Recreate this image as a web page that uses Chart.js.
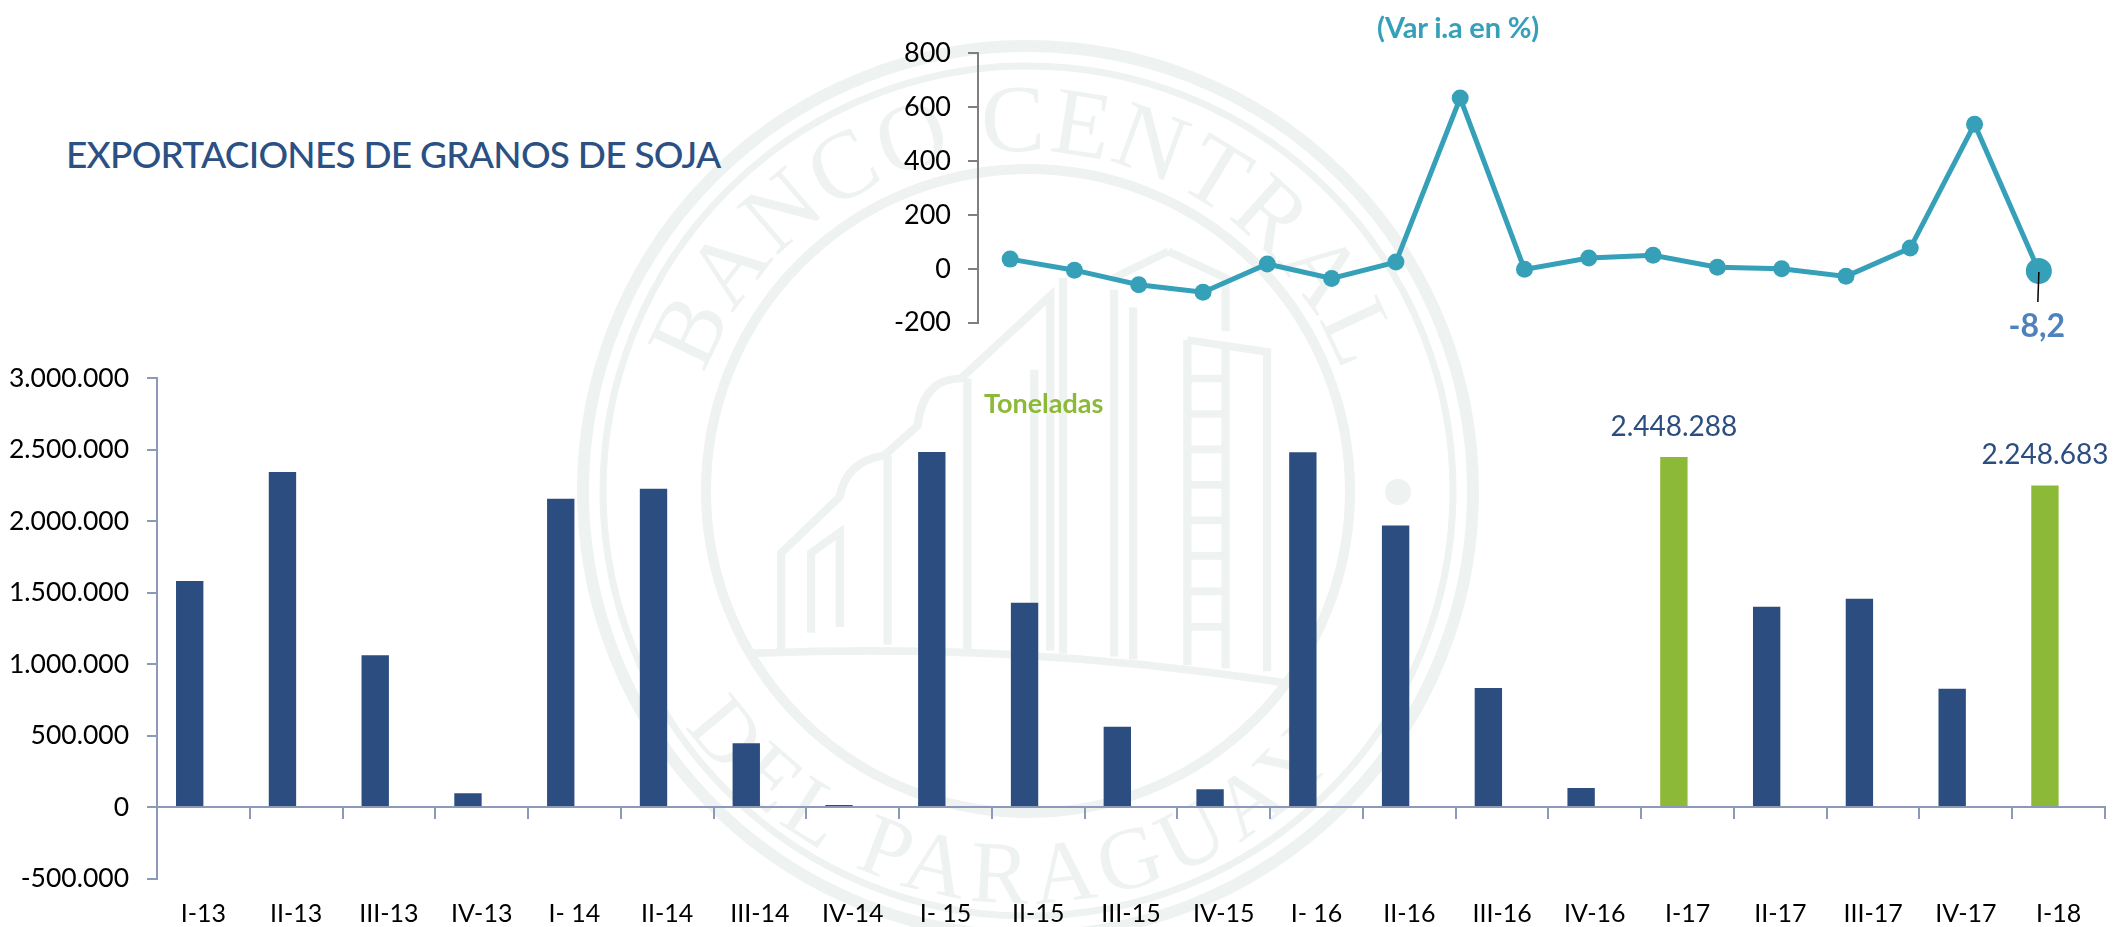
<!DOCTYPE html>
<html>
<head>
<meta charset="utf-8">
<title>Exportaciones de granos de soja</title>
<script src="https://cdn.jsdelivr.net/npm/chart.js@4/dist/chart.umd.min.js"></script>
<style>
    html, body { margin: 0; padding: 0; background: #fff; }
    #page { position: relative; width: 2113px; height: 927px; overflow: hidden; font-family: Lato, sans-serif; }
    #page canvas, #sello { position: absolute; }
    #sello { left: 0; top: 0; }
    #barras { left: 0; top: 340px; }
    #lineas { left: 850px; top: 0; }
    .txt { position: absolute; white-space: nowrap; line-height: 1; }
    #titulo { left: 66px; top: 135px; font-size: 37px; font-weight: 500; color: #2b5083; letter-spacing: -0.75px; }
    #toneladas { left: 984px; top: 389px; font-size: 27px; font-weight: 700; color: #8db938; }
    #var { left: 1377px; top: 12px; font-size: 29px; font-weight: 700; color: #36a0b9; letter-spacing: -0.2px; }
</style>
</head>
<body>
<div id="page">
    <svg id="sello" width="2113" height="927" viewBox="0 0 2113 927">
        <g fill="none" stroke="#eef2f0">
            <circle cx="1028" cy="491" r="445" stroke-width="12"/>
            <circle cx="1028" cy="491" r="425" stroke-width="7"/>
            <circle cx="1028" cy="491" r="322" stroke-width="10"/>
            <g transform="translate(540,0) scale(.6378,.5914)" stroke-width="13">
                <path d="M330 1105 Q750 1085 1170 1155"/>
                <path d="M378 1100 V935 L470 840 Q480 780 540 770 L592 720 Q600 640 660 640 L800 500 V1100"/>
                <path d="M425 1070 V935 L470 900 V1060 M545 770 V1090 M670 640 V1100 M775 625 V1100"/>
                <path d="M820 470 V1105 M900 490 V1110 M985 425 L900 470 M985 425 L1075 470 V560 M930 520 V1115"/>
                <path d="M1015 575 L1140 595 V1135 M1015 575 V1125 M1075 590 V1130"/>
                <path d="M1020 640 H1072 M1020 700 H1072 M1020 760 H1072 M1020 820 H1072 M1020 880 H1072 M1020 940 H1072 M1020 1000 H1072 M1020 1060 H1072"/>
            </g>
            <circle cx="1398" cy="492" r="13" fill="#eef2f0" stroke="none"/>
        </g>
        <defs>
            <path id="arcoSup" d="M 695.6 403 A 340 340 0 0 1 1352.4 403"/>
            <path id="arcoInf" d="M 667 697 A 412 412 0 0 0 1361.5 727"/>
        </defs>
        <g fill="#eef2f0" font-family="Liberation Serif" text-anchor="middle">
            <text font-size="96" letter-spacing="2"><textPath href="#arcoSup" startOffset="50%">BANCO CENTRAL</textPath></text>
            <text font-size="88" letter-spacing="8"><textPath href="#arcoInf" startOffset="50%">DEL PARAGUAY</textPath></text>
        </g>
    </svg>
    <canvas id="barras" width="2113" height="587"></canvas>
    <canvas id="lineas" width="1263" height="350"></canvas>
    <div class="txt" id="titulo">EXPORTACIONES DE GRANOS DE SOJA</div>
    <div class="txt" id="toneladas">Toneladas</div>
    <div class="txt" id="var">(Var i.a en %)</div>
</div>
<script>
const trimestres = ['I-13', 'II-13', 'III-13', 'IV-13', 'I- 14', 'II-14', 'III-14', 'IV-14', 'I- 15', 'II-15', 'III-15', 'IV-15', 'I- 16', 'II-16', 'III-16', 'IV-16', 'I-17', 'II-17', 'III-17', 'IV-17', 'I-18'];
const toneladas = [1581000, 2342000, 1062000, 97000, 2156000, 2225000, 447000, 15000, 2483000, 1428000, 562000, 124000, 2480000, 1968000, 833000, 133000, 2448288, 1400000, 1457000, 828000, 2248683];
const destacados = ['I-17', 'I-18'];

const trimestresVar = trimestres.slice(4);
const variacion = [36, -5, -59, -87, 18, -36, 25, 634, -2, 40, 50, 6, 0, -28, 77, 537, -8.2];

const azul = '#2c4d7f';
const verde = '#8db938';
const teal = '#36a0b9';
const fuente = 'Lato, sans-serif';

Chart.defaults.animation = false;
Chart.defaults.responsive = false;
Chart.defaults.font.family = fuente;

const miles = v => Number(v).toLocaleString('de-DE');

// etiquetas arriba de las barras verdes
const etiquetasBarras = {
    id: 'etiquetasBarras',
    afterDatasetsDraw(chart) {
        const ctx = chart.ctx;
        const meta = chart.getDatasetMeta(0);
        ctx.save();
        ctx.font = '28px ' + fuente;
        ctx.fillStyle = azul;
        ctx.textAlign = 'center';
        ctx.textBaseline = 'bottom';
        trimestres.forEach((t, i) => {
            if (destacados.includes(t)) {
                ctx.fillText(miles(toneladas[i]), meta.data[i].x, meta.data[i].y - 16);
            }
        });
        ctx.restore();
    }
};

new Chart(document.getElementById('barras'), {
    type: 'bar',
    data: {
        labels: trimestres,
        datasets: [{
            data: toneladas,
            backgroundColor: trimestres.map(t => destacados.includes(t) ? verde : azul),
            barPercentage: 1,
            categoryPercentage: 0.59
        }, {
            // serie vacia: las barras van corridas a la izquierda de la categoria
            data: [],
            barPercentage: 1,
            categoryPercentage: 0.59
        }]
    },
    options: {
        layout: { autoPadding: false, padding: { top: 38, right: 8, bottom: 48.4, left: 0 } },
        plugins: { legend: { display: false }, tooltip: { enabled: false } },
        scales: {
            x: {
                position: { y: 0 },
                // el padding grande baja las etiquetas, no debe achicar el area
                afterFit(scale) { scale.paddingLeft = 0; scale.paddingRight = 0; },
                grid: { drawOnChartArea: false, color: '#8d99b8', lineWidth: 2, tickLength: 11 },
                border: { color: '#8d99b8', width: 2 },
                ticks: { color: '#000', font: { size: 25 }, padding: 81, maxRotation: 0, autoSkip: false }
            },
            y: {
                min: -500000,
                max: 3000000,
                afterFit(scale) { scale.width = 157; },
                grid: { drawOnChartArea: false, color: '#8d99b8', lineWidth: 2, tickLength: 10 },
                border: { color: '#8d99b8', width: 2 },
                ticks: { stepSize: 500000, color: '#000', font: { size: 26.5 }, padding: 18, callback: miles }
            }
        }
    },
    plugins: [etiquetasBarras]
});

// linea guia y etiqueta del ultimo punto
const etiquetaFinal = {
    id: 'etiquetaFinal',
    afterDatasetsDraw(chart) {
        const ctx = chart.ctx;
        const ultimo = variacion.length - 1;
        const p = chart.getDatasetMeta(0).data[ultimo];
        ctx.save();
        ctx.strokeStyle = '#000';
        ctx.lineWidth = 1.5;
        ctx.beginPath();
        ctx.moveTo(p.x, p.y + 1);
        ctx.lineTo(p.x - 1, p.y + 31);
        ctx.stroke();
        ctx.font = '700 32px ' + fuente;
        ctx.fillStyle = '#4f81bd';
        ctx.textAlign = 'center';
        ctx.textBaseline = 'middle';
        ctx.fillText(String(variacion[ultimo]).replace('.', ','), p.x - 2, p.y + 56);
        ctx.restore();
    }
};

new Chart(document.getElementById('lineas'), {
    type: 'line',
    data: {
        labels: trimestresVar,
        datasets: [{
            data: variacion,
            borderColor: teal,
            backgroundColor: teal,
            borderWidth: 5,
            tension: 0,
            pointRadius: variacion.map((v, i) => i === variacion.length - 1 ? 13 : 8.5),
            pointBackgroundColor: teal,
            pointBorderWidth: 0
        }]
    },
    options: {
        layout: { autoPadding: false, padding: { top: 53.3, right: 42, bottom: 27.3, left: 0 } },
        plugins: { legend: { display: false }, tooltip: { enabled: false } },
        scales: {
            x: { display: false, offset: true },
            y: {
                min: -200,
                max: 800,
                afterFit(scale) { scale.width = 128; scale.paddingTop = 0; scale.paddingBottom = 0; },
                grid: { drawOnChartArea: false, color: '#7f7f7f', lineWidth: 2, tickLength: 10 },
                border: { color: '#7f7f7f', width: 2 },
                ticks: { stepSize: 200, color: '#000', font: { size: 27 }, padding: 17 }
            }
        }
    },
    plugins: [etiquetaFinal]
});
</script>
</body>
</html>
